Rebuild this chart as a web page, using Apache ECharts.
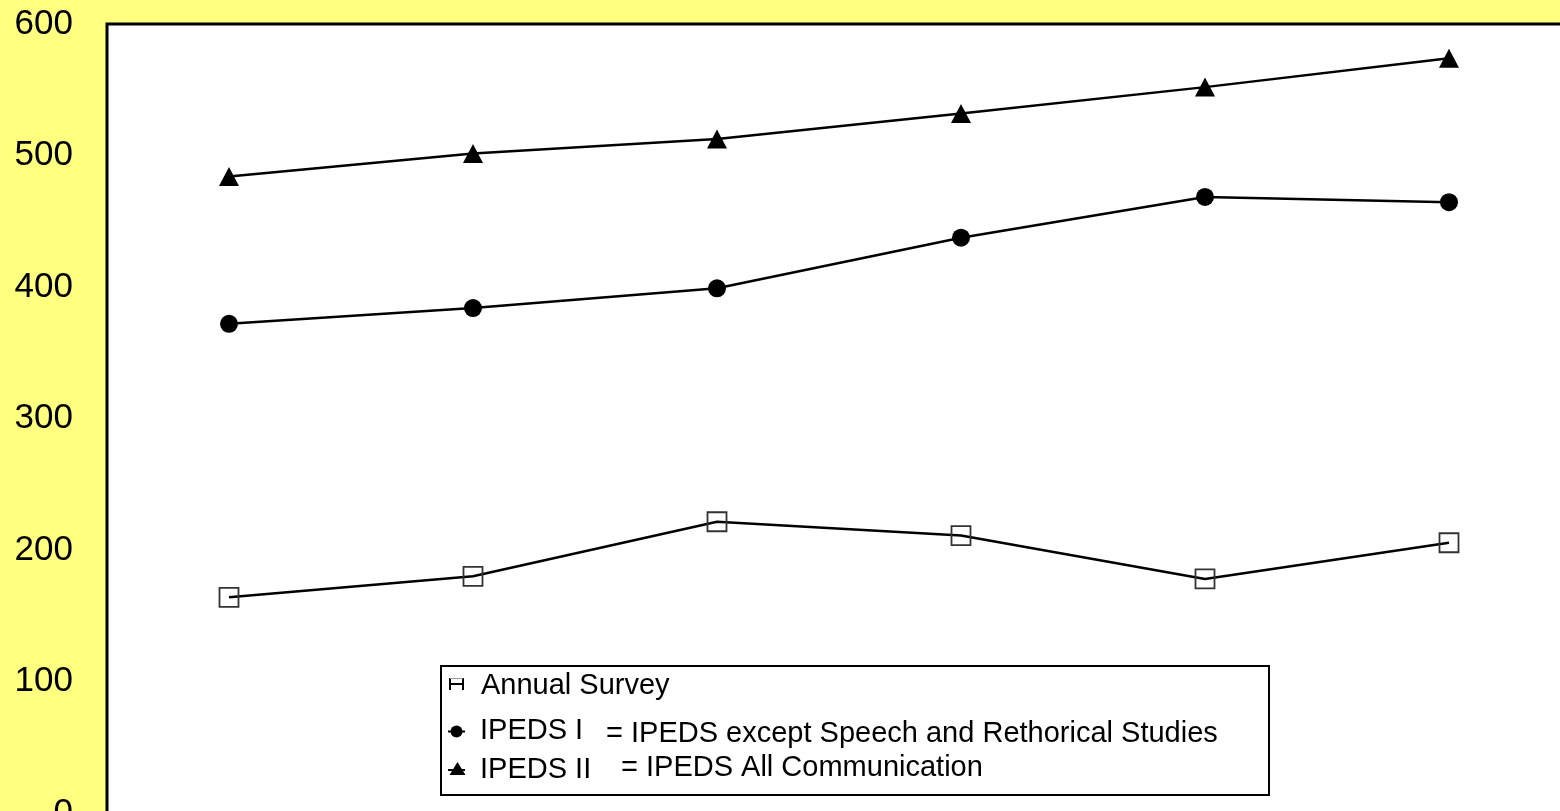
<!DOCTYPE html>
<html>
<head>
<meta charset="utf-8">
<script src="https://cdn.jsdelivr.net/npm/echarts@6/dist/echarts.min.js"></script>
<style>
html,body{margin:0;padding:0;background:#ffff80;}
#chart{width:1560px;height:811px;}
</style>
</head>
<body>
<div id="chart"></div>
<script>
// Data
var categories = ['1', '2', '3', '4', '5', '6'];
var yTicks = [0, 100, 200, 300, 400, 500, 600];
var annualSurvey = [164, 180, 221.5, 211, 178, 205.5];
var ipedsI = [372, 384, 399, 437.5, 468.5, 464.5];
var ipedsII = [484, 501.5, 512.5, 532, 552, 574];
var seriesNames = ['Annual Survey', 'IPEDS I', 'IPEDS II'];
var legendNotes = ['', '= IPEDS except Speech and Rethorical Studies', '= IPEDS All Communication'];

var FONT = '"Liberation Sans", Arial, sans-serif';
var chart = echarts.init(document.getElementById('chart'));
var lineStyle = { color: '#000', width: 2.5 };
var legendText = { color: '#000', fontSize: 29, fontFamily: FONT, lineHeight: 30, padding: [0, 0, 0, 10] };

function legendFor(name, top) {
  return {
    data: [{ name: name, icon: 'rect' }],
    left: 448, top: top, itemWidth: 17, itemHeight: 11, itemGap: 0,
    itemStyle: { opacity: 0 }, lineStyle: { opacity: 0 },
    textStyle: legendText, selectedMode: false, padding: 0
  };
}

chart.setOption({
  animation: false,
  backgroundColor: '#ffff80',
  grid: {
    left: 107, top: 24, right: -11, bottom: -2,
    outerBoundsMode: 'none', containLabel: false,
    show: true, backgroundColor: '#fff', borderColor: '#000', borderWidth: 3
  },
  xAxis: {
    type: 'category', data: categories, boundaryGap: true,
    axisLine: { show: false }, axisTick: { show: false }, axisLabel: { show: false },
    splitLine: { show: false }
  },
  yAxis: {
    type: 'value', min: yTicks[0], max: yTicks[yTicks.length - 1], interval: 100,
    axisLine: { show: false }, axisTick: { show: false }, splitLine: { show: false },
    axisLabel: { color: '#000', fontSize: 35, fontFamily: FONT, margin: 34, padding: [4, 0, 0, 0] }
  },
  legend: [
    legendFor(seriesNames[0], 671),
    legendFor(seriesNames[1], 716),
    legendFor(seriesNames[2], 755)
  ],
  graphic: [
    {
      type: 'rect', z: 3, left: 440, top: 665,
      shape: { width: 828, height: 129 },
      style: { fill: '#fff', stroke: '#000', lineWidth: 2 }
    },
    // legend glyphs
    { type: 'line', z: 6, shape: { x1: 449, y1: 684, x2: 464, y2: 684 }, style: { stroke: '#000', lineWidth: 2 } },
    { type: 'line', z: 6, shape: { x1: 450, y1: 678, x2: 450, y2: 690 }, style: { stroke: '#000', lineWidth: 2 } },
    { type: 'line', z: 6, shape: { x1: 463, y1: 678, x2: 463, y2: 690 }, style: { stroke: '#000', lineWidth: 2 } },
    { type: 'line', z: 6, shape: { x1: 450, y1: 678.5, x2: 463, y2: 678.5 }, style: { stroke: '#999', lineWidth: 1 } },
    { type: 'line', z: 6, shape: { x1: 448, y1: 731.5, x2: 465, y2: 731.5 }, style: { stroke: '#000', lineWidth: 2 } },
    { type: 'circle', z: 6, shape: { cx: 456.5, cy: 731.5, r: 6 }, style: { fill: '#000' } },
    { type: 'line', z: 6, shape: { x1: 448, y1: 770, x2: 465, y2: 770 }, style: { stroke: '#000', lineWidth: 2 } },
    { type: 'polygon', z: 6, shape: { points: [[457.5, 762], [465.5, 775], [449.5, 775]] }, style: { fill: '#000' } },
    {
      type: 'text', z: 5, x: 606, y: 734,
      style: { text: legendNotes[1], fill: '#000', font: '29px ' + FONT, verticalAlign: 'middle' }
    },
    {
      type: 'text', z: 5, x: 621, y: 768,
      style: { text: legendNotes[2], fill: '#000', font: '29px ' + FONT, verticalAlign: 'middle' }
    }
  ],
  series: [
    {
      name: seriesNames[0], type: 'line', data: annualSurvey,
      symbol: 'rect', symbolSize: 19, showAllSymbol: true,
      lineStyle: lineStyle,
      itemStyle: { color: 'rgba(0,0,0,0)', borderColor: '#333', borderWidth: 1.8 }
    },
    {
      name: seriesNames[1], type: 'line', data: ipedsI,
      symbol: 'circle', symbolSize: 18, showAllSymbol: true,
      lineStyle: lineStyle, itemStyle: { color: '#000' }
    },
    {
      name: seriesNames[2], type: 'line', data: ipedsII,
      symbol: 'triangle', symbolSize: [20, 19], showAllSymbol: true,
      lineStyle: lineStyle, itemStyle: { color: '#000' }
    }
  ]
});
</script>
</body>
</html>
